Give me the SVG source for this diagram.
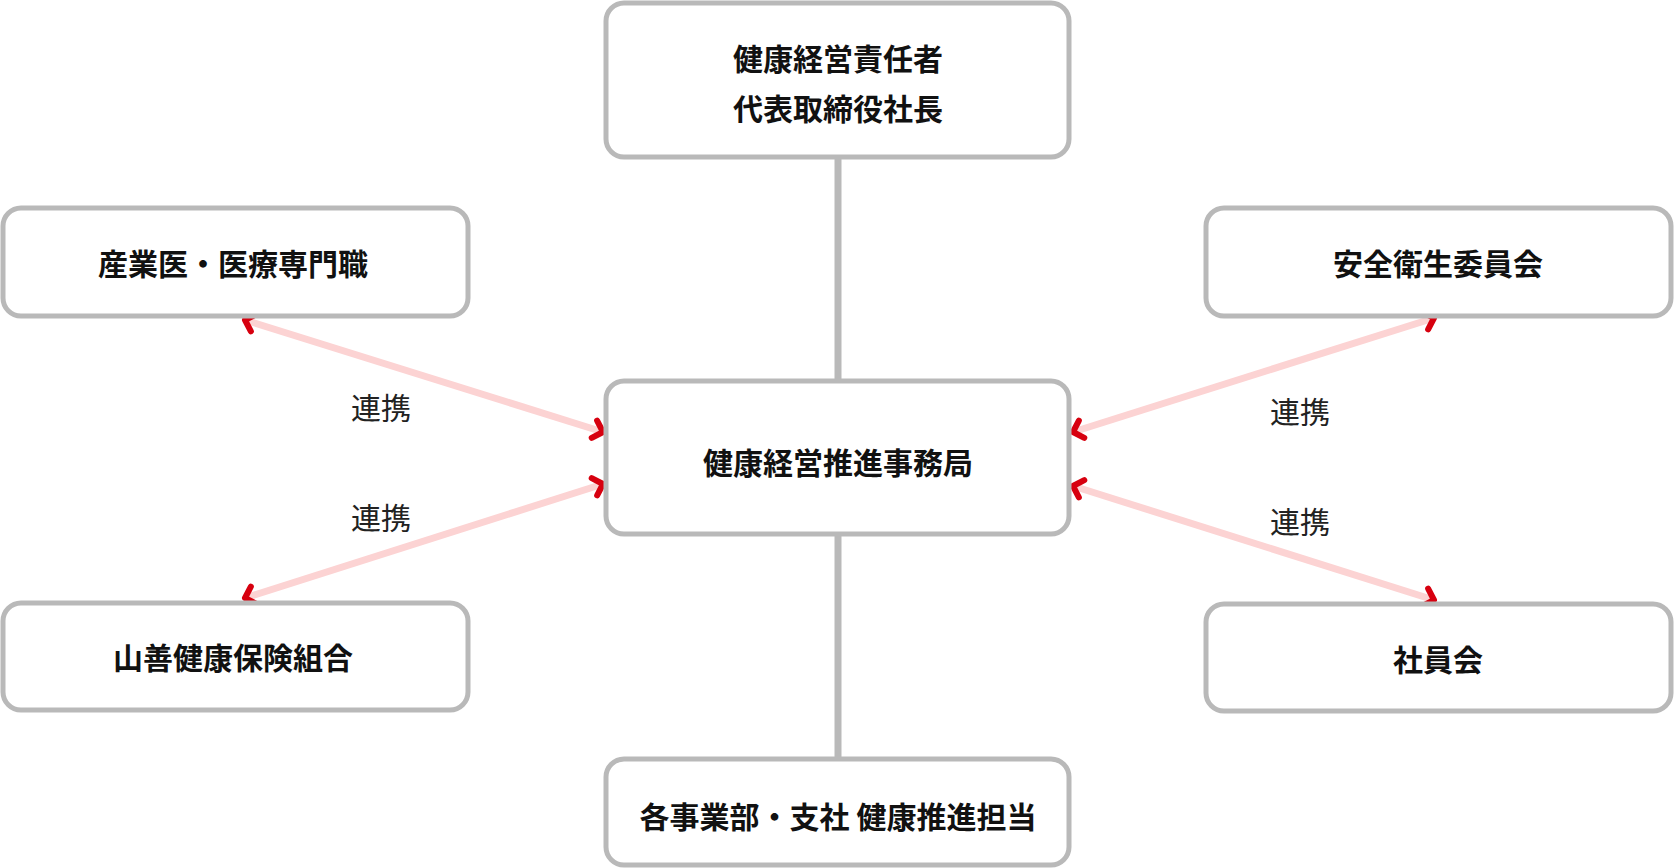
<svg xmlns="http://www.w3.org/2000/svg" width="1674" height="868" viewBox="0 0 1674 868">
<style>
.box{fill:#fff;stroke:#b9b9b9;stroke-width:5}
.t{font-family:"Noto Sans CJK JP","Noto Sans CJK SC",sans-serif;font-weight:bold;font-size:30px;fill:#111;text-anchor:middle;dominant-baseline:central}
.l{font-family:"Noto Sans CJK JP","Noto Sans CJK SC",sans-serif;font-size:30px;fill:#222;text-anchor:middle;dominant-baseline:central}
.v{stroke:#b9b9b9;stroke-width:7}
.p{stroke:#fcd3d3;stroke-width:7;fill:none;marker-start:url(#a);marker-end:url(#a)}
</style>
<defs>
<marker id="a" markerUnits="userSpaceOnUse" markerWidth="30" markerHeight="30" viewBox="-15 -15 30 30" refX="0" refY="0" orient="auto-start-reverse">
<path d="M-9,-9 L0,0 L-9,9" fill="none" stroke="#d7000f" stroke-width="6" stroke-linecap="round" stroke-linejoin="round"/>
</marker>
</defs>
<g id="connectors">
<line class="v" x1="838" y1="157" x2="838" y2="381"/>
<line class="v" x1="838" y1="534" x2="838" y2="759"/>
<line class="p" x1="245" y1="320" x2="603" y2="432"/>
<line class="p" x1="245" y1="598" x2="603" y2="484"/>
<line class="p" x1="1073" y1="432" x2="1434" y2="318"/>
<line class="p" x1="1073" y1="486" x2="1434" y2="600"/>
<text class="l" x="381" y="406">連携</text>
<text class="l" x="381" y="516">連携</text>
<text class="l" x="1300" y="410">連携</text>
<text class="l" x="1300" y="520">連携</text>
</g>
<g id="n1"><rect class="box" x="606" y="3" width="463" height="154" rx="18"/><text class="t" x="838" y="57">健康経営責任者</text><text class="t" x="838" y="107">代表取締役社長</text></g>
<g id="n2"><rect class="box" x="606" y="381" width="463" height="153" rx="18"/><text class="t" x="838" y="461">健康経営推進事務局</text></g>
<g id="n3"><rect class="box" x="606" y="759" width="463" height="106" rx="18"/><text class="t" x="838" y="815">各事業部・支社 健康推進担当</text></g>
<g id="n4"><rect class="box" x="3" y="208" width="465" height="108" rx="18"/><text class="t" x="233" y="262">産業医・医療専門職</text></g>
<g id="n5"><rect class="box" x="3" y="603" width="465" height="107" rx="18"/><text class="t" x="233" y="656">山善健康保険組合</text></g>
<g id="n6"><rect class="box" x="1206" y="208" width="465" height="108" rx="18"/><text class="t" x="1438" y="262">安全衛生委員会</text></g>
<g id="n7"><rect class="box" x="1206" y="604" width="465" height="107" rx="18"/><text class="t" x="1438" y="658">社員会</text></g>
</svg>
